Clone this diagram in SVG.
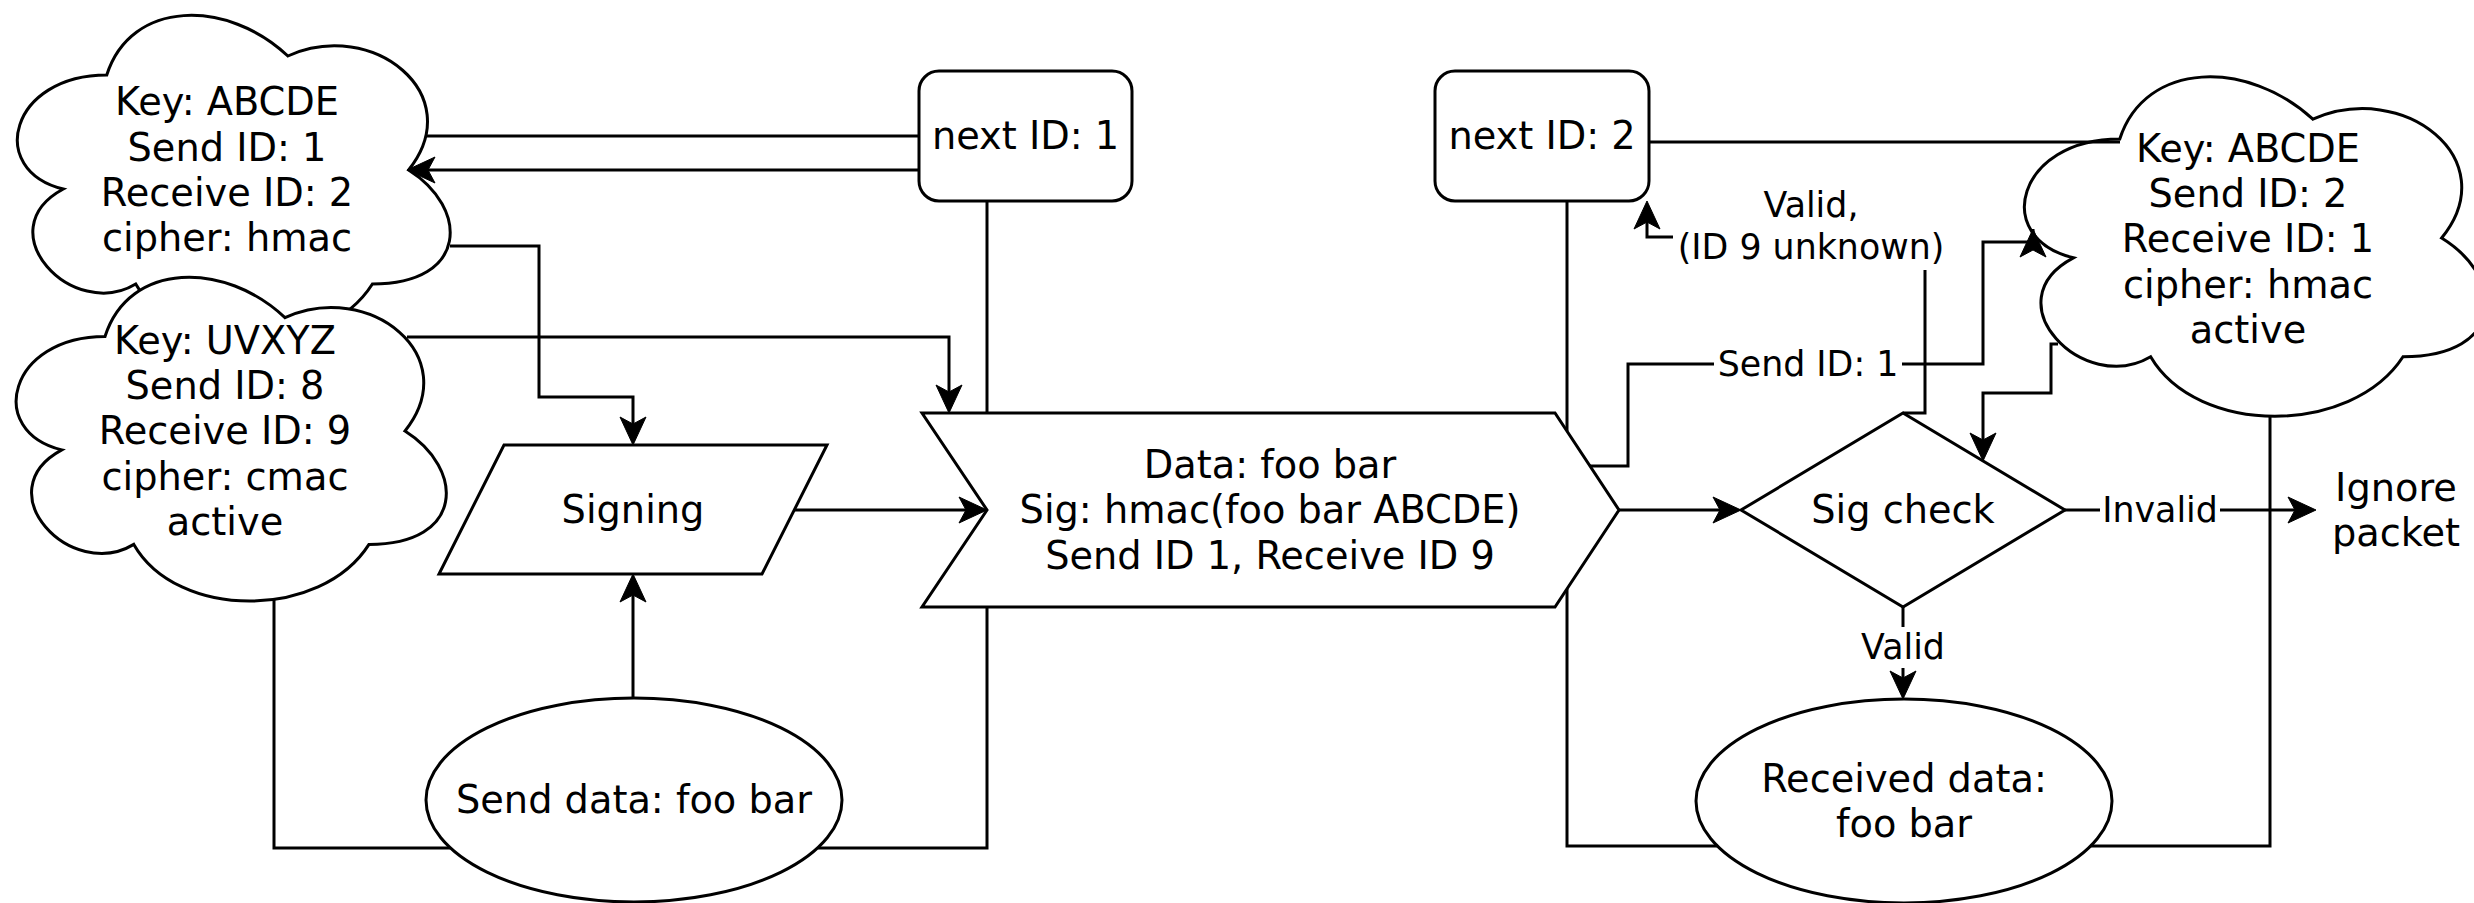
<svg xmlns="http://www.w3.org/2000/svg" width="2474" height="903" viewBox="0 0 2474 903">
<style>
.shape{fill:#fff;stroke:#000;stroke-width:3}
.edge{fill:none;stroke:#000;stroke-width:3}
.t{font-family:"DejaVu Sans","Liberation Sans",sans-serif;font-size:38.3px;fill:#000;text-anchor:middle}
.lt{font-family:"DejaVu Sans","Liberation Sans",sans-serif;font-size:34.8px;fill:#000;text-anchor:middle}
.lbg{fill:#fff;stroke:none}
</style>
<defs>
<marker id="arr" viewBox="-30 -15 32 30" markerWidth="32" markerHeight="30" refX="-21" refY="0" orient="auto" markerUnits="userSpaceOnUse">
<path d="M0,0 L-28,-13 L-21,0 L-28,13 Z" fill="#000" stroke="#000" stroke-width="1"/>
</marker>
<marker id="arr0" viewBox="-30 -15 32 30" markerWidth="32" markerHeight="30" refX="0" refY="0" orient="auto" markerUnits="userSpaceOnUse">
<path d="M0,0 L-28,-13 L-21,0 L-28,13 Z" fill="#000" stroke="#000" stroke-width="1"/>
</marker>
</defs>
<rect width="2474" height="903" fill="#fff"/>

<g id="cloud-sender-abcde">
<path class="shape" d="M106.75,75 C10.15,75 -14,170 63.28,189 C-14,230.8 72.94,322 135.73,284 C179.2,360 324.1,360 372.4,284 C469,284 469,208 408.63,170 C469,94 372.4,18 287.88,56 C227.5,-1 130.9,-1 106.75,75 Z"/>
<text class="t" x="227" y="115.2">Key: ABCDE</text>
<text class="t" x="227" y="160.6">Send ID: 1</text>
<text class="t" x="227" y="206">Receive ID: 2</text>
<text class="t" x="227" y="251.4">cipher: hmac</text>
</g>

<g id="cloud-sender-uvxyz">
<path class="shape" d="M105,336.5 C9,336.5 -15,431 61.8,449.9 C-15,491.5 71.4,582.2 133.8,544.4 C177,620 321,620 369,544.4 C465,544.4 465,468.8 405,431 C465,355.4 369,279.8 285,317.6 C225,260.9 129,260.9 105,336.5 Z"/>
<text class="t" x="225" y="353.5">Key: UVXYZ</text>
<text class="t" x="225" y="398.9">Send ID: 8</text>
<text class="t" x="225" y="444.3">Receive ID: 9</text>
<text class="t" x="225" y="489.7">cipher: cmac</text>
<text class="t" x="225" y="535.1">active</text>
</g>

<g id="cloud-receiver-abcde">
<path class="shape" d="M2119.75,139 C2016.75,139 1991,238 2073.4,257.8 C1991,301.4 2083.7,396.4 2150.65,356.8 C2197,436 2351.5,436 2403,356.8 C2506,356.8 2506,277.6 2441.63,238 C2506,158.8 2403,79.6 2312.88,119.2 C2248.5,59.8 2145.5,59.8 2119.75,139 Z"/>
<text class="t" x="2248" y="161.5">Key: ABCDE</text>
<text class="t" x="2248" y="206.9">Send ID: 2</text>
<text class="t" x="2248" y="252.3">Receive ID: 1</text>
<text class="t" x="2248" y="297.7">cipher: hmac</text>
<text class="t" x="2248" y="343.1">active</text>
</g>

<g id="next-id-1">
<rect class="shape" x="919" y="71" width="213" height="130" rx="20" ry="20"/>
<text class="t" x="1025.5" y="149.3">next ID: 1</text>
</g>

<g id="next-id-2">
<rect class="shape" x="1435" y="71" width="214" height="130" rx="20" ry="20"/>
<text class="t" x="1542" y="149.3">next ID: 2</text>
</g>

<g id="signing">
<polygon class="shape" points="504,445 827,445 762,574 439,574"/>
<text class="t" x="633" y="523">Signing</text>
</g>

<g id="packet">
<polygon class="shape" points="922,413 1555,413 1619,510 1555,607 922,607 987,510"/>
<text class="t" x="1270" y="477.7">Data: foo bar</text>
<text class="t" x="1270" y="523.3">Sig: hmac(foo bar ABCDE)</text>
<text class="t" x="1270" y="568.9">Send ID 1, Receive ID 9</text>
</g>

<g id="sig-check">
<polygon class="shape" points="1903,413 2065,510 1903,607 1741,510"/>
<text class="t" x="1903" y="523.3">Sig check</text>
</g>

<g id="ignore-packet">
<text class="t" x="2396" y="500.6">Ignore</text>
<text class="t" x="2396" y="546">packet</text>
</g>

<g id="send-data">
<ellipse class="shape" cx="634" cy="800" rx="208" ry="102"/>
<text class="t" x="634" y="813.3">Send data: foo bar</text>
</g>

<g id="received-data">
<ellipse class="shape" cx="1904" cy="801" rx="208" ry="102"/>
<text class="t" x="1904" y="791.6">Received data:</text>
<text class="t" x="1904" y="837">foo bar</text>
</g>

<g id="connectors">
<path class="edge" d="M425,136 L919,136"/>
<path class="edge" d="M919,170 L428,170" marker-end="url(#arr)"/>
<path class="edge" d="M450,246 L539,246 L539,397 L633,397 L633,424" marker-end="url(#arr)"/>
<path class="edge" d="M407,337 L949,337 L949,392" marker-end="url(#arr)"/>
<path class="edge" d="M987,201 L987,413"/>
<path class="edge" d="M274,600 L274,848 L450,848 M818,848 L987,848 L987,607"/>
<path class="edge" d="M633,698 L633,595" marker-end="url(#arr)"/>
<path class="edge" d="M794,510 L966,510" marker-end="url(#arr)"/>
<path class="edge" d="M1619,510 L1720,510" marker-end="url(#arr)"/>
<path class="edge" d="M1567,201 L1567,431 M1567,589 L1567,846 L1718,846"/>
<path class="edge" d="M1649,142 L2120,142"/>
<path class="edge" d="M2270,416 L2270,846 L2090,846"/>
<path class="edge" d="M2058,344 L2051,344 L2051,393 L1983,393 L1983,440" marker-end="url(#arr)"/>

<path class="edge" d="M1590,466 L1628,466 L1628,364 L1983,364 L1983,242 L2033,242 L2033,229" marker-end="url(#arr0)"/>
<rect class="lbg" x="1714" y="343" width="188" height="42"/>
<text class="lt" x="1808" y="376.2">Send ID: 1</text>

<path class="edge" d="M1903,413 L1925,413 L1925,237 L1647,237 L1647,222" marker-end="url(#arr)"/>
<rect class="lbg" x="1673" y="182" width="276" height="88"/>
<text class="lt" x="1811" y="216.5">Valid,</text>
<text class="lt" x="1811" y="258.5">(ID 9 unknown)</text>

<path class="edge" d="M2065,510 L2295,510" marker-end="url(#arr)"/>
<rect class="lbg" x="2100" y="490" width="120" height="40"/>
<text class="lt" x="2160" y="522.2">Invalid</text>

<path class="edge" d="M1903,607 L1903,678" marker-end="url(#arr)"/>
<rect class="lbg" x="1858" y="627" width="90" height="41"/>
<text class="lt" x="1903" y="659.2">Valid</text>
</g>
</svg>
